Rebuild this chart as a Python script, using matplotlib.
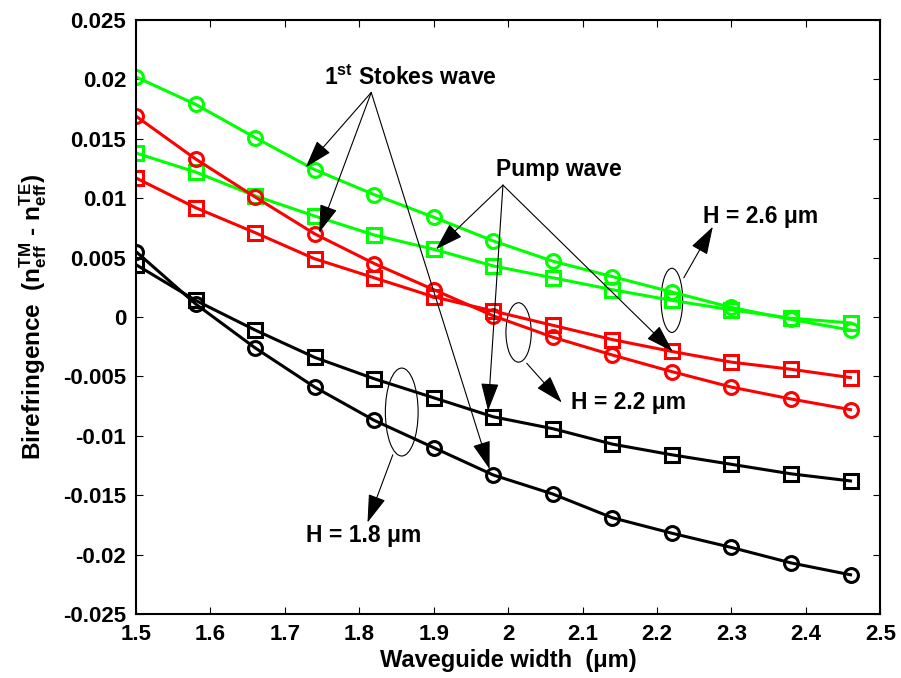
import matplotlib
matplotlib.use('Agg')
import matplotlib.pyplot as plt
from matplotlib.patches import Ellipse

# ── Data ───────────────────────────────────────────────────────────────────

width_um = [1.50, 1.58, 1.66, 1.74, 1.82, 1.90, 1.98, 2.06, 2.14, 2.22, 2.30, 2.38, 2.46]

# H = 2.6 um (green)
h26_stokes = [0.0202, 0.0179, 0.0151, 0.0124, 0.0103, 0.0084, 0.0064, 0.0047, 0.0034,
              0.0021, 0.0008, -0.0002, -0.0011]
h26_pump   = [0.0138, 0.0122, 0.0102, 0.0085, 0.0069, 0.0057, 0.0043, 0.0033, 0.0023,
              0.0014, 0.0006, -0.0001, -0.0005]
# H = 2.2 um (red)
h22_stokes = [0.0169, 0.0133, 0.0101, 0.0070, 0.0045, 0.0023, 0.0001, -0.0017, -0.0032,
              -0.0046, -0.0059, -0.0069, -0.0078]
h22_pump   = [0.0117, 0.0092, 0.0071, 0.0049, 0.0033, 0.0017, 0.0005, -0.0007, -0.0019,
              -0.0029, -0.0038, -0.0044, -0.0051]
# H = 1.8 um (black)
h18_stokes = [0.0055, 0.0011, -0.0026, -0.0059, -0.0087, -0.0110, -0.0133, -0.0149,
              -0.0169, -0.0182, -0.0194, -0.0207, -0.0217]
h18_pump   = [0.0044, 0.0014, -0.0011, -0.0034, -0.0052, -0.0068, -0.0084, -0.0094,
              -0.0107, -0.0116, -0.0124, -0.0132, -0.0138]

xticks = [1.5, 1.6, 1.7, 1.8, 1.9, 2.0, 2.1, 2.2, 2.3, 2.4, 2.5]
xticklabels = ['1.5', '1.6', '1.7', '1.8', '1.9', '2', '2.1', '2.2', '2.3', '2.4', '2.5']
yticks = [-0.025, -0.02, -0.015, -0.01, -0.005, 0, 0.005, 0.01, 0.015, 0.02, 0.025]
yticklabels = ['-0.025', '-0.02', '-0.015', '-0.01', '-0.005', '0',
               '0.005', '0.01', '0.015', '0.02', '0.025']

GREEN = '#00ff00'
RED = '#ff0000'
BLACK = '#000000'

plt.rcParams.update({
    'font.family': 'Liberation Sans',
    'font.weight': 'bold',
    'font.size': 16,
    'mathtext.fontset': 'custom',
    'mathtext.rm': 'Liberation Sans:bold',
    'mathtext.bf': 'Liberation Sans:bold',
    'mathtext.it': 'Liberation Sans:bold',
    'mathtext.default': 'bf',
})

fig = plt.figure(figsize=(9.01, 6.78), dpi=100)
ax = fig.add_axes([0.151, 0.0944, 0.826, 0.8761])

series = [
    (h26_stokes, GREEN, 'o'), (h26_pump, GREEN, 's'),
    (h22_stokes, RED, 'o'), (h22_pump, RED, 's'),
    (h18_stokes, BLACK, 'o'), (h18_pump, BLACK, 's'),
]
for vals, col, mk in series:
    ax.plot(width_um, vals, color=col, marker=mk, linewidth=2.2,
            markersize=10 if mk == 'o' else 9.5, markerfacecolor='none',
            markeredgewidth=2.2, markeredgecolor=col)

ax.set_xlim(1.5, 2.5)
ax.set_ylim(-0.025, 0.025)
ax.set_xticks(xticks)
ax.set_xticklabels(xticklabels)
ax.set_yticks(yticks)
ax.set_yticklabels(yticklabels)
ax.tick_params(direction='in', length=5, width=0.8, top=True, right=True, pad=7)
for sp in ax.spines.values():
    sp.set_linewidth(1.5)

ax.set_xlabel('Waveguide width  (μm)', fontweight='bold', fontsize=17, labelpad=3)
ax.set_ylabel('Birefringence  (n$_{eff}^{TM}$ - n$_{eff}^{TE}$)', fontweight='bold',
              fontsize=17.5, labelpad=10)

# ── Annotations ────────────────────────────────────────────────────────────

arrow = dict(arrowstyle='-|>,head_length=1.1,head_width=0.35', color='black',
             linewidth=0.8, shrinkA=0, shrinkB=0)

ax.text(1.753, 0.0201, '1$^{st}$ Stokes wave', ha='left', va='center',
        fontweight='bold', fontsize=16.5)
stokes_from = (1.816, 0.0189)
for tip in [(1.728, 0.0126), (1.746, 0.0071), (1.975, -0.0128)]:
    ax.annotate('', xy=tip, xytext=stokes_from, arrowprops=arrow)

ax.text(1.984, 0.0124, 'Pump wave', ha='left', va='center', fontweight='bold', fontsize=16.5)
pump_from = (1.993, 0.0111)
for tip in [(1.903, 0.0057), (1.973, -0.0079), (2.221, -0.0029)]:
    ax.annotate('', xy=tip, xytext=pump_from, arrowprops=arrow)

# grouping ellipses and height labels
ellipses = [
    ((2.220, 0.0014), 0.029, 0.0054),
    ((2.014, -0.0013), 0.034, 0.0050),
    ((1.857, -0.0080), 0.044, 0.0074),
]
for c, w, h in ellipses:
    ax.add_patch(Ellipse(c, w, h, fill=False, edgecolor='black', linewidth=0.8))

ax.annotate('', xy=(2.275, 0.0076), xytext=(2.236, 0.0033), arrowprops=arrow)
ax.text(2.262, 0.0085, 'H = 2.6 μm', ha='left', va='center', fontweight='bold', fontsize=16.5)

ax.annotate('', xy=(2.072, -0.0072), xytext=(2.025, -0.0039), arrowprops=arrow)
ax.text(2.085, -0.0072, 'H = 2.2 μm', ha='left', va='center', fontweight='bold', fontsize=16.5)

ax.annotate('', xy=(1.811, -0.0173), xytext=(1.845, -0.0116), arrowprops=arrow)
ax.text(1.729, -0.0184, 'H = 1.8 μm', ha='left', va='center', fontweight='bold', fontsize=16.5)

fig.savefig('out.png', dpi=100)
